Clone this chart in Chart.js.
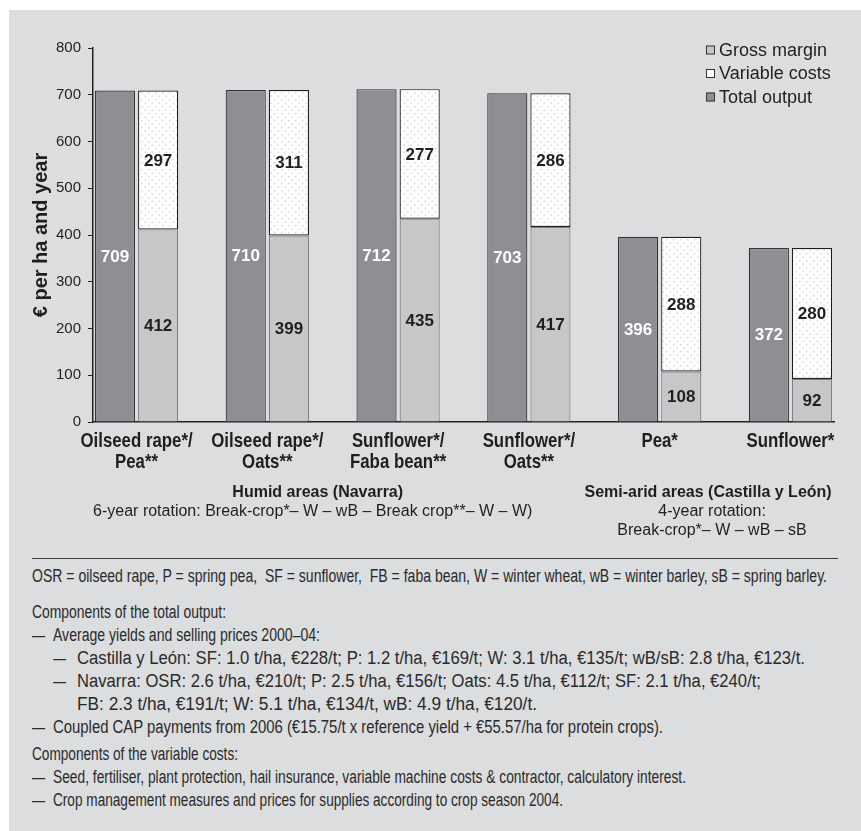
<!DOCTYPE html>
<html>
<head>
<meta charset="utf-8">
<script src="https://cdn.jsdelivr.net/npm/chart.js@4.4.1/dist/chart.umd.min.js"></script>
<style>
  html, body { margin: 0; padding: 0; background: #ffffff; }
  #panel { position: absolute; left: 9px; top: 10px; width: 852px; height: 821px; background: #dcdddf; }
  #wrap { position: absolute; left: 0; top: 0; width: 861px; height: 545px; }
  #rule { position: absolute; left: 32px; top: 558px; width: 806px; height: 0; border-top: 1.5px solid #3a3a3a; }
  #notes { position: absolute; left: 32px; top: 565px; color: #2a2a2a; width: 820px;
           font-family: "Liberation Sans", Arial, sans-serif; font-size: 18px; }
  #notes div { white-space: pre; line-height: 23px; height: 23px; position: relative; }
  #notes .gap1 { margin-top: 13px; }
  #notes .gap2 { margin-top: 4px; }
  #notes .d1 { padding-left: 21px; }
  #notes .d2 { padding-left: 45px; }
  #notes .d1::before, #notes .d2::before { content: "–"; position: absolute; transform: scaleX(1.3); transform-origin: 0 0; }
  #notes .d1::before { left: 0; }
  #notes .d2::before { left: 21px; }
  #notes .c2 { padding-left: 45px; }
  #notes .t { display: inline-block; transform-origin: 0 0; }
</style>
</head>
<body>
<div id="panel"></div>
<div id="wrap"><canvas id="chart" width="861" height="545"></canvas></div>
<div id="rule"></div>
<div id="notes">
  <div><span class="t" data-w="795">OSR = oilseed rape, P = spring pea,  SF = sunflower,  FB = faba bean, W = winter wheat, wB = winter barley, sB = spring barley.</span></div>
  <div class="gap1"><span class="t" data-w="194">Components of the total output:</span></div>
  <div class="d1"><span class="t" data-w="267">Average yields and selling prices 2000–04:</span></div>
  <div class="d2"><span class="t" data-w="728">Castilla y León: SF: 1.0 t/ha, €228/t; P: 1.2 t/ha, €169/t; W: 3.1 t/ha, €135/t; wB/sB: 2.8 t/ha, €123/t.</span></div>
  <div class="d2"><span class="t" data-w="684">Navarra: OSR: 2.6 t/ha, €210/t; P: 2.5 t/ha, €156/t; Oats: 4.5 t/ha, €112/t; SF: 2.1 t/ha, €240/t;</span></div>
  <div class="c2"><span class="t" data-w="460">FB: 2.3 t/ha, €191/t; W: 5.1 t/ha, €134/t, wB: 4.9 t/ha, €120/t.</span></div>
  <div class="d1"><span class="t" data-w="610">Coupled CAP payments from 2006 (€15.75/t x reference yield + €55.57/ha for protein crops).</span></div>
  <div class="gap2"><span class="t" data-w="206">Components of the variable costs:</span></div>
  <div class="d1"><span class="t" data-w="633">Seed, fertiliser, plant protection, hail insurance, variable machine costs &amp; contractor, calculatory interest.</span></div>
  <div class="d1"><span class="t" data-w="510">Crop management measures and prices for supplies according to crop season 2004.</span></div>
</div>
<script>
// Crop rotations (two-line axis labels)
const categories = [
  ["Oilseed rape*/", "Pea**"],
  ["Oilseed rape*/", "Oats**"],
  ["Sunflower*/", "Faba bean**"],
  ["Sunflower*/", "Oats**"],
  ["Pea*"],
  ["Sunflower*"]
];
// € per ha and year
const totalOutput   = [709, 710, 712, 703, 396, 372];
const grossMargin   = [412, 399, 435, 417, 108, 92];
const variableCosts = [297, 311, 277, 286, 288, 280];
const yTicks = [0, 100, 200, 300, 400, 500, 600, 700, 800];

// Region captions under the axis: first/last category index and text lines
const regionTitles = ["Humid areas (Navarra)", "Semi-arid areas (Castilla y León)"];
const regionSpans  = [[0, 3], [4, 5]];
const regionNotes  = [
  ["6-year rotation: Break-crop*– W – wB – Break crop**– W – W)"],
  ["4-year rotation:", "Break-crop*– W – wB – sB"]
];

const SANS = '"Liberation Sans", Arial, Helvetica, sans-serif';
const INK = '#1f1f1f';

// Footnote lines are set in a condensed face: squeeze each line to its column width
document.querySelectorAll('#notes .t').forEach(el => {
  const natural = el.getBoundingClientRect().width;
  const target = parseFloat(el.dataset.w);
  if (natural > 0) el.style.transform = 'scaleX(' + (target / natural) + ')';
});

function dotPattern() {
  const c = document.createElement('canvas');
  c.width = 7; c.height = 7;
  const g = c.getContext('2d');
  g.fillStyle = '#ffffff';
  g.fillRect(0, 0, 7, 7);
  g.fillStyle = '#d2d3d6';
  g.fillRect(1, 1, 1.4, 1.4);
  g.fillRect(4.5, 4.5, 1.4, 1.4);
  return g.createPattern(c, 'repeat');
}
const dots = dotPattern();

const xy = arr => arr.map((v, i) => ({ x: i, y: v }));

// Value labels centred inside every bar segment
const barValues = {
  id: 'barValues',
  afterDatasetsDraw(chart) {
    const ctx = chart.ctx;
    ctx.save();
    ctx.font = 'bold 17px ' + SANS;
    ctx.textAlign = 'center';
    ctx.textBaseline = 'middle';
    chart.data.datasets.forEach((ds, di) => {
      const meta = chart.getDatasetMeta(di);
      ctx.fillStyle = di === 0 ? '#ffffff' : INK;
      meta.data.forEach((el, i) => {
        const p = el.getProps(['x', 'y', 'base'], true);
        ctx.fillText(String(ds.data[i].y), p.x, (p.y + p.base) / 2 + 1);
      });
    });
    ctx.restore();
  }
};

// Condensed bold category labels under the axis
const categoryLabels = {
  id: 'categoryLabels',
  afterDraw(chart) {
    const ctx = chart.ctx;
    const xs = chart.scales.x;
    const base = chart.chartArea.bottom;
    const squeeze = 0.82;
    ctx.save();
    ctx.font = 'bold 20.5px ' + SANS;
    ctx.textAlign = 'center';
    ctx.textBaseline = 'middle';
    ctx.fillStyle = INK;
    categories.forEach((lines, i) => {
      const cx = xs.getPixelForValue(i);
      lines.forEach((line, j) => {
        ctx.save();
        ctx.translate(cx, base + 19 + j * 21);
        ctx.scale(squeeze, 1);
        ctx.fillText(line, 0, 0);
        ctx.restore();
      });
    });
    ctx.restore();
  }
};

// Legend block in the upper right of the plot
const legendBox = {
  id: 'legendBox',
  afterDraw(chart) {
    const ctx = chart.ctx;
    const a = chart.chartArea;
    const order = [1, 2, 0];
    const x0 = a.right - 128, y0 = a.top + 2, step = 23.5;
    ctx.save();
    ctx.font = '18px ' + SANS;
    ctx.textBaseline = 'middle';
    ctx.textAlign = 'left';
    order.forEach((di, k) => {
      const ds = chart.data.datasets[di];
      const y = y0 + k * step;
      ctx.fillStyle = di === 2 ? '#ffffff' : ds.backgroundColor;
      ctx.fillRect(x0, y - 4.5, 9, 9);
      ctx.strokeStyle = '#333333';
      ctx.lineWidth = 1;
      ctx.strokeRect(x0 + 0.5, y - 4, 8, 8);
      ctx.fillStyle = INK;
      ctx.fillText(ds.label, x0 + 13, y + 1);
    });
    ctx.restore();
  }
};

// Region captions below the category labels
const regionCaptions = {
  id: 'regionCaptions',
  afterDraw(chart) {
    const ctx = chart.ctx;
    const xs = chart.scales.x;
    const base = chart.chartArea.bottom;
    const titleShift = [-15, -17], noteShift = [-20, -13];
    ctx.save();
    ctx.textAlign = 'center';
    ctx.textBaseline = 'middle';
    ctx.fillStyle = INK;
    regionTitles.forEach((t, r) => {
      const [a, b] = regionSpans[r];
      const cx = (xs.getPixelForValue(a) + xs.getPixelForValue(b)) / 2;
      ctx.font = 'bold 16px ' + SANS;
      ctx.fillText(t, cx + titleShift[r], base + 71);
      ctx.font = '16px ' + SANS;
      regionNotes[r].forEach((line, j) => {
        ctx.fillText(line, cx + noteShift[r], base + 90 + j * 19);
      });
    });
    ctx.restore();
  }
};

new Chart(document.getElementById('chart'), {
  type: 'bar',
  data: {
    datasets: [
      { label: 'Total output', data: xy(totalOutput), stack: 'output',
        backgroundColor: '#8e8f93', borderColor: '#353535', borderWidth: 1.2 },
      { label: 'Gross margin', data: xy(grossMargin), stack: 'split',
        backgroundColor: '#c6c7c9', borderColor: '#7f8083', borderWidth: 1.2 },
      { label: 'Variable costs', data: xy(variableCosts), stack: 'split',
        backgroundColor: dots, borderColor: '#1e1e1e', borderWidth: 1.2, borderSkipped: false }
    ]
  },
  options: {
    responsive: false,
    animation: false,
    categoryPercentage: 0.66,
    barPercentage: 0.93,
    layout: { padding: { top: 48, right: 27, bottom: 73, left: 0 } },
    plugins: { legend: { display: false }, tooltip: { enabled: false } },
    scales: {
      x: {
        type: 'linear',
        offset: false,
        min: -0.333,
        max: categories.length - 1 + 0.333,
        afterBuildTicks: s => { s.ticks = categories.map((_, i) => ({ value: i })); },
        afterFit: s => { s.height = 50; },
        ticks: { display: false },
        grid: { display: false, drawTicks: false, offset: false },
        border: { display: true, color: '#222222', width: 1.5 }
      },
      y: {
        stacked: true,
        min: 0, max: 800,
        afterBuildTicks: s => { s.ticks = yTicks.map(v => ({ value: v })); },
        afterFit: s => { s.width = 93; },
        ticks: { color: INK, padding: 7, font: { family: SANS, size: 15 } },
        grid: { display: true, drawOnChartArea: false, drawTicks: true, tickLength: 5, color: '#222222', lineWidth: 1 },
        border: { display: true, color: '#222222', width: 1.5 },
        title: { display: true, text: '€ per ha and year', color: INK,
                 font: { family: SANS, size: 20, weight: 'bold' }, padding: { top: 29, bottom: 0 } }
      }
    }
  },
  plugins: [barValues, categoryLabels, legendBox, regionCaptions]
});
</script>
</body>
</html>
